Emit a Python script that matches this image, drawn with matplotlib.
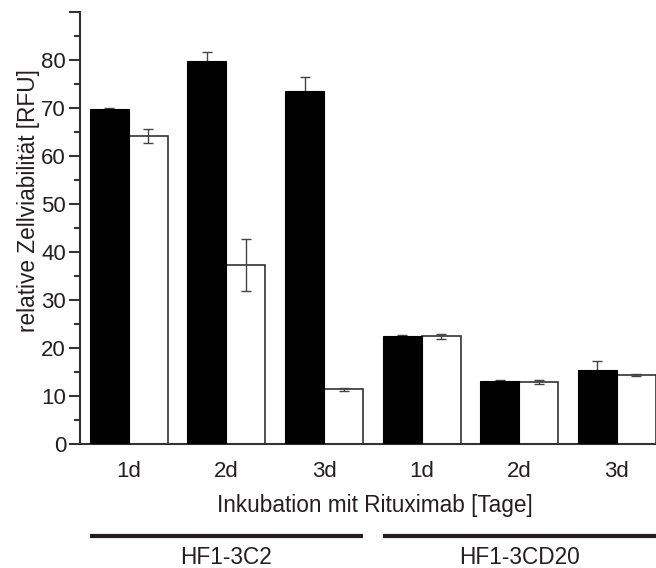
import numpy as np
import matplotlib
matplotlib.use('Agg')
from matplotlib import pyplot as plt
from matplotlib.ticker import MultipleLocator

plt.rcParams['font.family'] = ['Liberation Sans', 'DejaVu Sans']

days = ['1d', '2d', '3d', '1d', '2d', '3d']
groups = ['HF1-3C2', 'HF1-3CD20']
black_vals = [69.7, 79.8, 73.5, 22.6, 13.2, 15.4]
black_err = [0.2, 1.9, 3.0, 0.2, 0.2, 1.8]
white_vals = [64.2, 37.3, 11.4, 22.4, 12.9, 14.3]
white_err = [1.5, 5.5, 0.3, 0.6, 0.5, 0.2]

txt = '#231f20'
fs = 16
x = np.arange(len(days))
w = 0.4

fig = plt.figure(figsize=(6.56, 5.68), dpi=100)
ax = fig.add_axes([80 / 656, 124 / 568, 1 - 80 / 656, 432 / 568])

ax.bar(x - w / 2, black_vals, w, color='black', edgecolor='black', linewidth=0.8, zorder=3)
ax.bar(x + w / 2, white_vals, w, color='white', edgecolor='#333333', linewidth=1.2, zorder=1)
# error bars sit behind the black bars, in front of the white ones
ax.errorbar(x - w / 2, black_vals, yerr=black_err, fmt='none', ecolor='#444444',
            elinewidth=1, capsize=3.5, capthick=1, zorder=2)
ax.errorbar(x + w / 2, white_vals, yerr=white_err, fmt='none', ecolor='#444444',
            elinewidth=1, capsize=3.5, capthick=1, zorder=2)

ax.set_xlim(-0.5, 5.4)
ax.set_ylim(0, 90)
ax.set_yticks(np.arange(0, 91, 10))
ax.set_yticklabels([str(v) for v in range(0, 81, 10)] + [''])
ax.yaxis.set_minor_locator(MultipleLocator(5))
ax.set_xticks(x)
ax.set_xticklabels(days)

for s in ['top', 'right']:
    ax.spines[s].set_visible(False)
for s in ['left', 'bottom']:
    ax.spines[s].set_linewidth(1.5)
    ax.spines[s].set_color('#333333')

ax.tick_params(axis='y', which='major', length=8, width=1.5, color='#333333',
               labelsize=fs, labelcolor=txt, pad=2)
ax.tick_params(axis='y', which='minor', length=4, width=1.5, color='#333333')
ax.tick_params(axis='x', length=0, labelsize=fs, labelcolor=txt, pad=12)

ax.set_ylabel('relative Zellviabilität [RFU]', fontsize=16.3, color=txt,
              ha='center', va='center')
ax.yaxis.set_label_coords(-0.09, 0.5625)
ax.set_xlabel('Inkubation mit Rituximab [Tage]', fontsize=16.3, color=txt,
              ha='center', va='center')
ax.xaxis.set_label_coords(0.512, -0.1435)

# group brackets under the axis
trans = ax.get_xaxis_transform()
spans = [(-0.4, 2.4), (2.6, 5.4)]
for (a, b), name in zip(spans, groups):
    ax.plot([a, b], [-0.212, -0.212], color=txt, lw=3, transform=trans, clip_on=False,
            solid_capstyle='butt')
    ax.text((a + b) / 2, -0.262, name, transform=trans, ha='center', va='center',
            fontsize=16.3, color=txt)

fig.savefig('out.png', dpi=100)
